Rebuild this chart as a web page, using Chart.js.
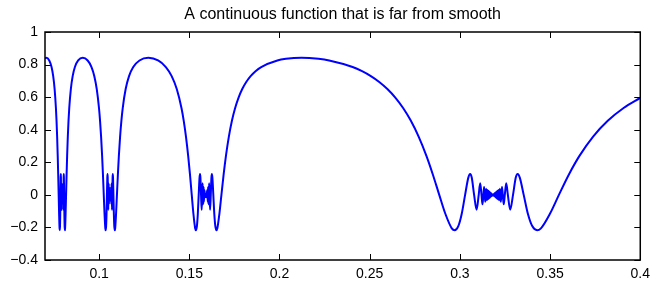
<!DOCTYPE html>
<html>
<head>
<meta charset="utf-8">
<script src="https://cdn.jsdelivr.net/npm/chart.js@4/dist/chart.umd.min.js"></script>
<style>
html,body{margin:0;padding:0;background:#fff;}
#wrap{width:656px;height:286px;}
</style>
</head>
<body>
<div id="wrap"><canvas id="c" width="656" height="286"></canvas></div>
<script>
const titleText = 'A continuous function that is far from smooth';

// Segment 1: x = 0.07 .. 0.0909
const xSeg1 = [0.07,0.070736,0.072362,0.073626,0.074546,0.075335,0.076053,0.076394,0.076727,0.077054,0.077312,0.077578,0.077820,0.078072,0.078181,0.078322,0.078448,0.078578,0.078698,0.078763,0.078823,0.078910,0.079000,0.079076,0.079129,0.079211,0.079268,0.079310,0.079388,0.079483,0.079577,0.079673,0.079768,0.079847,0.079889,0.079947,0.080031,0.080085,0.080163,0.080256,0.080347,0.080409,0.080477,0.080603,0.080740,0.080874,0.081025,0.081143,0.081416,0.081683,0.081980,0.082272,0.082648,0.083037,0.083445,0.084326,0.085337,0.086577,0.088393,0.090946];
const ySeg1 = [0.8382,0.8415,0.8251,0.7848,0.7289,0.6497,0.5333,0.4546,0.3578,0.2394,0.1284,0,-0.1161,-0.2055,-0.2172,-0.1918,-0.1195,0,0.1058,0.1284,0.1063,0,-0.0913,0,0.071,-0.058,0.049,-0.0424,0.03,-0.015,0,-0.015,0.03,-0.0424,0.049,-0.058,0.071,0,-0.0913,0,0.1063,0.1284,0.1058,0,-0.1195,-0.1918,-0.2172,-0.2055,-0.1161,0,0.1284,0.2394,0.3578,0.4546,0.5333,0.6497,0.7289,0.7848,0.8251,0.8415];

// Segment 2: x = 0.0909 .. 0.1273
const xSeg2 = [0.093651,0.095778,0.097344,0.098694,0.099928,0.100519,0.101096,0.101664,0.102113,0.102578,0.103002,0.103443,0.103635,0.103883,0.104104,0.104333,0.104545,0.104661,0.104766,0.104920,0.105080,0.105214,0.105308,0.105453,0.105555,0.105628,0.105767,0.105935,0.106103,0.106272,0.106442,0.106583,0.106658,0.106762,0.106911,0.107008,0.107147,0.107314,0.107475,0.107586,0.107709,0.107934,0.108181,0.108420,0.108692,0.108904,0.109398,0.109880,0.110418,0.110947,0.111632,0.112345,0.113092,0.114716,0.116595,0.118923,0.122375,0.127324];
const ySeg2 = [0.8251,0.7848,0.7289,0.6497,0.5333,0.4546,0.3578,0.2394,0.1284,0,-0.1161,-0.2055,-0.2172,-0.1918,-0.1195,0,0.1058,0.1284,0.1063,0,-0.0913,0,0.071,-0.058,0.049,-0.0424,0.03,-0.015,0,-0.015,0.03,-0.0424,0.049,-0.058,0.071,0,-0.0913,0,0.1063,0.1284,0.1058,0,-0.1195,-0.1918,-0.2172,-0.2055,-0.1161,0,0.1284,0.2394,0.3578,0.4546,0.5333,0.6497,0.7289,0.7848,0.8251,0.8415];

// Segment 3: x = 0.1273 .. 0.2122
const xSeg3 = [0.132690,0.137001,0.140227,0.143045,0.145654,0.146912,0.148148,0.149372,0.150342,0.151353,0.152277,0.153243,0.153664,0.154212,0.154699,0.155205,0.155674,0.155931,0.156165,0.156507,0.156863,0.157161,0.157372,0.157697,0.157923,0.158088,0.158398,0.158776,0.159155,0.159536,0.159918,0.160236,0.160406,0.160640,0.160979,0.161206,0.161515,0.161894,0.162262,0.162515,0.162795,0.163311,0.163876,0.164425,0.165052,0.165541,0.166684,0.167805,0.169065,0.170309,0.171928,0.173623,0.175414,0.177315,0.179353,0.181561,0.183990,0.186710,0.189855,0.198808,0.203555,0.212207];
const ySeg3 = [0.8251,0.7848,0.7289,0.6497,0.5333,0.4546,0.3578,0.2394,0.1284,0,-0.1161,-0.2055,-0.2172,-0.1918,-0.1195,0,0.1058,0.1284,0.1063,0,-0.0913,0,0.071,-0.058,0.049,-0.0424,0.03,-0.015,0,-0.015,0.03,-0.0424,0.049,-0.058,0.071,0,-0.0913,0,0.1063,0.1284,0.1058,0,-0.1195,-0.1918,-0.2172,-0.2055,-0.1161,0,0.1284,0.2394,0.3578,0.4546,0.5333,0.5972,0.6497,0.6929,0.7289,0.7592,0.7848,0.8251,0.8351,0.8415];

// Segment 4: x = 0.2122 .. 0.4
const xSeg4 = [0.221627,0.227542,0.240524,0.245767,0.250646,0.255298,0.259795,0.264195,0.268529,0.272837,0.277132,0.281445,0.284909,0.288560,0.291938,0.295509,0.297081,0.299134,0.300970,0.302894,0.304684,0.305671,0.306571,0.307892,0.309273,0.310435,0.311256,0.311984,0.312530,0.313019,0.313422,0.313766,0.314071,0.314565,0.314952,0.315269,0.315528,0.315748,0.315937,0.316097,0.316247,0.316367,0.316477,0.316597,0.316748,0.316898,0.317048,0.317199,0.317350,0.317502,0.317653,0.317804,0.317956,0.318108,0.318310,0.318513,0.318665,0.318818,0.318970,0.319123,0.319276,0.319429,0.319582,0.319735,0.319889,0.320042,0.320165,0.320278,0.320401,0.320555,0.320720,0.320915,0.321142,0.321410,0.321741,0.322145,0.322665,0.322988,0.323353,0.323783,0.324308,0.324898,0.325691,0.326596,0.327891,0.329458,0.330984,0.332040,0.333212,0.335380,0.337771,0.340114,0.342808,0.344924,0.349921,0.354900,0.360583,0.366288,0.373861,0.381972,0.390749,0.4];
const ySeg4 = [0.8351,0.8251,0.7848,0.7592,0.7289,0.6929,0.6497,0.5972,0.5333,0.4546,0.3578,0.2394,0.1284,0,-0.1161,-0.2055,-0.2172,-0.1918,-0.1195,0,0.1058,0.1284,0.1063,0,-0.0913,0,0.071,0,-0.058,0,0.049,0,-0.0424,0.0374,-0.0335,0.0303,-0.0277,0.0255,-0.0236,0.022,-0.0205,0.0193,-0.0182,0.017,-0.0155,0.014,-0.0125,0.011,-0.0095,0.008,-0.0065,0.005,-0.0035,0.002,0,0.002,-0.0035,0.005,-0.0065,0.008,-0.0095,0.011,-0.0125,0.014,-0.0155,0.017,-0.0182,0.0193,-0.0205,0.022,-0.0236,0.0255,-0.0277,0.0303,-0.0335,0.0374,-0.0424,0,0.049,0,-0.058,0,0.071,0,-0.0913,0,0.1063,0.1284,0.1058,0,-0.1195,-0.1918,-0.2172,-0.2055,-0.1161,0,0.1284,0.2394,0.3578,0.4546,0.5333,0.5955];

const xTicks = [0.1,0.15,0.2,0.25,0.3,0.35,0.4];
const xTickLabels = ['0.1','0.15','0.2','0.25','0.3','0.35','0.4'];
const yTicks = [-0.4,-0.2,0,0.2,0.4,0.6,0.8,1];
const yTickLabels = ['\u22120.4','\u22120.2','0','0.2','0.4','0.6','0.8','1'];

const allX = [].concat(xSeg1, xSeg2, xSeg3, xSeg4);
const allY = [].concat(ySeg1, ySeg2, ySeg3, ySeg4);
const points = allX.map((x, i) => ({x: x, y: allY[i]}));

const FONT = "'Liberation Sans', Arial, Helvetica, sans-serif";

const boxTicks = {
  id: 'boxTicks',
  afterDraw(chart) {
    const ctx = chart.ctx, a = chart.chartArea;
    const xs = chart.scales.x, ys = chart.scales.y;
    const L = 6;
    ctx.save();
    ctx.strokeStyle = '#000';
    ctx.lineWidth = 1;
    ctx.beginPath();
    xs.ticks.forEach(t => {
      const p = Math.round(xs.getPixelForValue(t.value)) + 0.5;
      ctx.moveTo(p, a.bottom); ctx.lineTo(p, a.bottom - L);
      ctx.moveTo(p, a.top); ctx.lineTo(p, a.top + L);
    });
    ys.ticks.forEach(t => {
      const p = Math.round(ys.getPixelForValue(t.value)) + 0.5;
      ctx.moveTo(a.left, p); ctx.lineTo(a.left + L, p);
      ctx.moveTo(a.right, p); ctx.lineTo(a.right - L, p);
    });
    ctx.stroke();
    ctx.lineWidth = 1.5;
    ctx.strokeRect(a.left, a.top, a.right - a.left, a.bottom - a.top);
    ctx.restore();
  }
};

new Chart(document.getElementById('c'), {
  type: 'line',
  data: {
    datasets: [{
      data: points,
      borderColor: '#0000ff',
      borderWidth: 2,
      pointRadius: 0,
      pointHoverRadius: 0,
      fill: false,
      cubicInterpolationMode: 'monotone'
    }]
  },
  options: {
    responsive: false,
    animation: false,
    devicePixelRatio: 1,
    layout: { padding: { left: 0, right: 10, top: 0, bottom: 0 } },
    plugins: {
      legend: { display: false },
      tooltip: { enabled: false },
      title: {
        display: true,
        text: titleText,
        fullSize: false,
        color: '#000',
        font: { family: FONT, size: 16, weight: 'normal' },
        padding: { top: 5, bottom: 7.8 }
      }
    },
    scales: {
      x: {
        type: 'linear',
        min: 0.07,
        max: 0.4,
        grid: { display: false, drawTicks: false },
        border: { display: false },
        afterBuildTicks: (s) => { s.ticks = xTicks.map(v => ({ value: v })); },
        afterFit: (s) => { s.height = 26; },
        ticks: {
          autoSkip: false,
          maxRotation: 0,
          padding: 6,
          color: '#000',
          font: { family: FONT, size: 14 },
          callback: (v) => xTickLabels[xTicks.indexOf(v)]
        }
      },
      y: {
        type: 'linear',
        min: -0.4,
        max: 1,
        grid: { display: false, drawTicks: false },
        border: { display: false },
        afterBuildTicks: (s) => { s.ticks = yTicks.map(v => ({ value: v })); },
        afterFit: (s) => { s.width = 45; },
        ticks: {
          autoSkip: false,
          padding: 7,
          color: '#000',
          font: { family: FONT, size: 14 },
          callback: (v) => yTickLabels[yTicks.indexOf(v)]
        }
      }
    }
  },
  plugins: [boxTicks]
});
</script>
</body>
</html>
